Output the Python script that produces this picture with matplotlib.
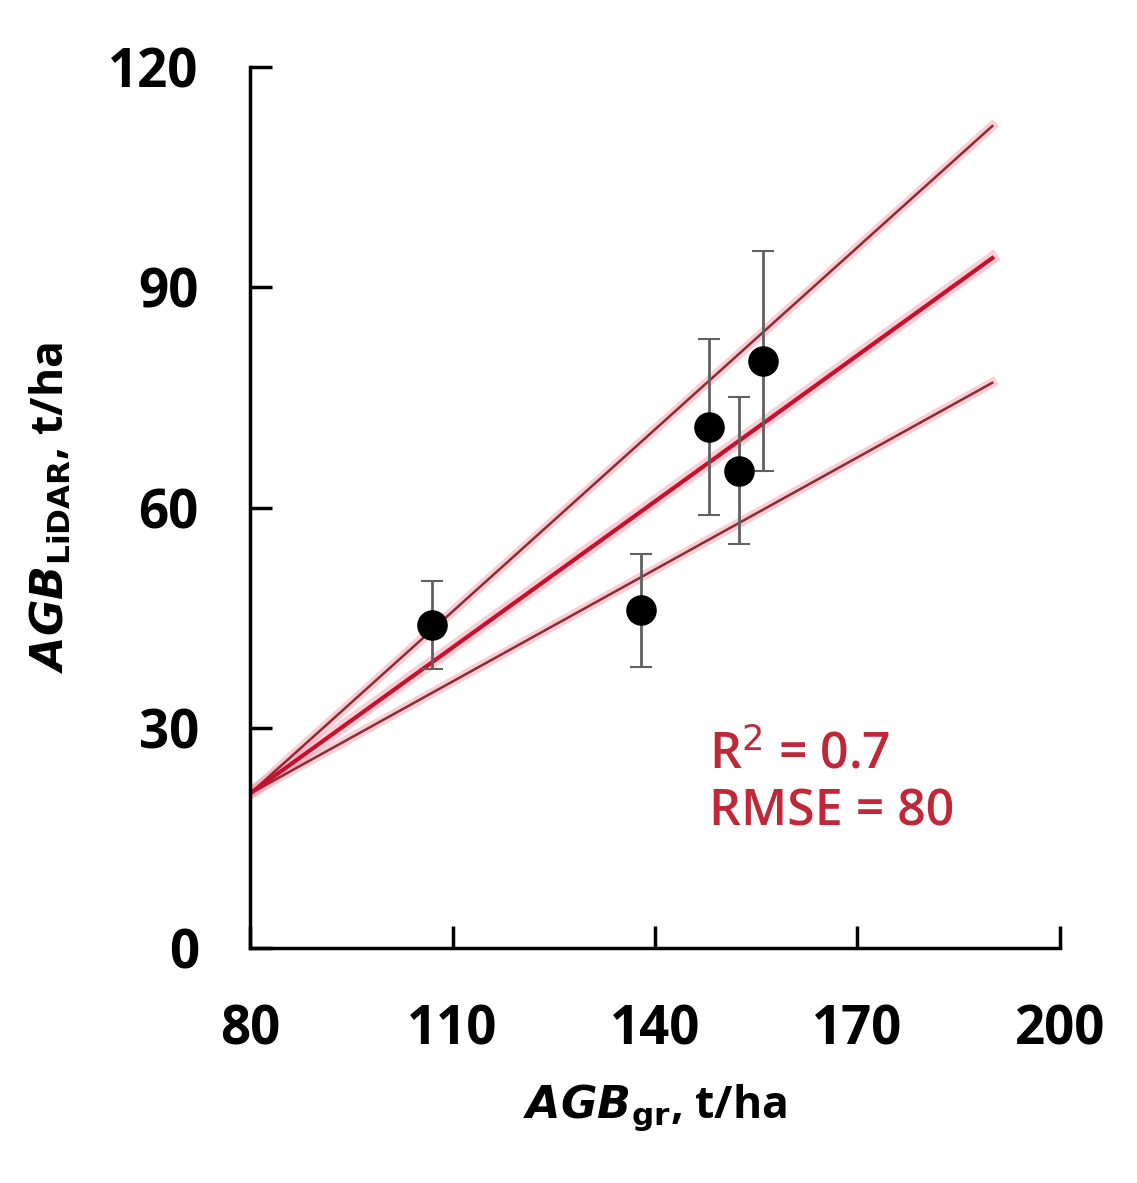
import matplotlib.pyplot as plt
import numpy as np

plt.rcParams['font.family'] = ['Open Sans', 'DejaVu Sans']

# Plot data
agb_ref = [107, 138, 148, 152.5, 156]
agb_lidar = [44, 46, 71, 65, 80]
err = [6, 7.7, 12, 10, 15]

# Fitted line and its bounds, all from x = 80 to 190
fit_x = [80, 190]
fit_mid = [21, 94]
fit_up = [21, 112]
fit_lo = [21, 77]

x_ticks = [80, 110, 140, 170, 200]
y_ticks = [0, 30, 60, 90, 120]

fig = plt.figure(figsize=(11.37, 11.83), dpi=100)
ax = fig.add_axes([0.22, 0.199, 0.712, 0.744])

# Pink glow under the lines
for yy in (fit_up, fit_lo):
    ax.plot(fit_x, yy, color='#f4a0b0', lw=7, alpha=0.5, zorder=1)
    ax.plot(fit_x, yy, color='#8e2a30', lw=1.8, zorder=2)
ax.plot(fit_x, fit_mid, color='#f4a0b0', lw=9, alpha=0.5, zorder=1)
ax.plot(fit_x, fit_mid, color='#c8102e', lw=3, zorder=2)

# Points with error bars
ax.errorbar(agb_ref, agb_lidar, yerr=err, fmt='o', color='black', ms=21,
            ecolor='#606060', elinewidth=2, capsize=8, capthick=1.5, zorder=3)

ax.text(148, 15, 'R$^2$ = 0.7\nRMSE = 80', color='#c0283a', fontsize=36,
        fontweight='semibold', linespacing=1.2, va='bottom', ha='left')

ax.set_xlim(80, 200)
ax.set_ylim(0, 120)
ax.set_xticks(x_ticks)
ax.set_yticks(y_ticks)
ax.tick_params(direction='in', length=16, width=2.5, labelsize=38)
ax.tick_params(axis='x', pad=40)
ax.tick_params(axis='y', pad=37)
for lab in ax.get_xticklabels() + ax.get_yticklabels():
    lab.set_fontweight('bold')
for side in ('top', 'right'):
    ax.spines[side].set_visible(False)
for side in ('left', 'bottom'):
    ax.spines[side].set_linewidth(2.5)

ax.set_xlabel(r'$\bfit{AGB}_{\bf{gr}}$, t/ha', fontsize=32, fontweight='bold', labelpad=18)
ax.set_ylabel(r'$\bfit{AGB}_{\bf{LiDAR}}$, t/ha', fontsize=32, fontweight='bold', labelpad=24)

fig.savefig('out.png', dpi=100)
